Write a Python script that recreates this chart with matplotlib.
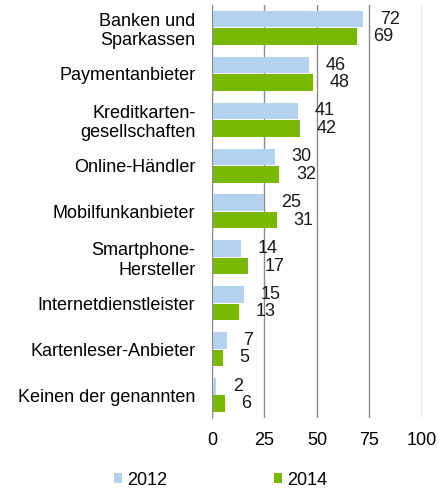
import numpy as np
import matplotlib.pyplot as plt

plt.rcParams['font.family'] = ['Liberation Sans', 'DejaVu Sans']

categories = ["Banken und\nSparkassen", "Paymentanbieter", "Kreditkarten-\ngesellschaften",
              "Online-Händler", "Mobilfunkanbieter", "Smartphone-\nHersteller",
              "Internetdienstleister", "Kartenleser-Anbieter", "Keinen der genannten"]
values_2012 = [72, 46, 41, 30, 25, 14, 15, 7, 2]
values_2014 = [69, 48, 42, 32, 31, 17, 13, 5, 6]
xticks = [0, 25, 50, 75, 100]

fig = plt.figure(figsize=(4.39, 4.90), dpi=100)
ax = fig.add_axes([0.483, 0.147, 0.478, 0.843])

y = np.arange(len(categories))
h = 0.36
b1 = ax.barh(y - h / 2 - 0.01, values_2012, height=h, color='#B4D1F0', label='2012', zorder=2)
b2 = ax.barh(y + h / 2 + 0.01, values_2014, height=h, color='#78B800', label='2014', zorder=2)

for bars, vals in [(b1, values_2012), (b2, values_2014)]:
    for rect, v in zip(bars, vals):
        ax.annotate(str(v), (rect.get_width(), rect.get_y() + rect.get_height() / 2),
                    xytext=(12, 0), textcoords='offset points',
                    ha='left', va='center', fontsize=13, color='#1a1a1a')

ax.set_ylim(len(categories) - 0.5, -0.5)
ax.set_xlim(0, 100)
ax.set_yticks(y)
ax.set_yticklabels(categories, fontsize=13, ha='right')
ax.set_xticks(xticks)
ax.set_xticklabels([str(t) for t in xticks], fontsize=13)
ax.tick_params(axis='y', length=0, pad=12)
ax.tick_params(axis='x', length=0, pad=10)

ax.grid(axis='x', color='#8c8c8c', linewidth=1, zorder=0)
ax.set_axisbelow(True)
for s in ['top', 'right', 'bottom']:
    ax.spines[s].set_visible(False)
ax.spines['left'].set_color('#8c8c8c')

fig.legend(handles=[b1, b2], labels=['2012', '2014'], loc='center',
           bbox_to_anchor=(0.503, 0.02), ncol=2, frameon=False, fontsize=13,
           handlelength=0.45, handleheight=0.45, handletextpad=0.3,
           columnspacing=5.9)

fig.savefig('out.png', dpi=100)
